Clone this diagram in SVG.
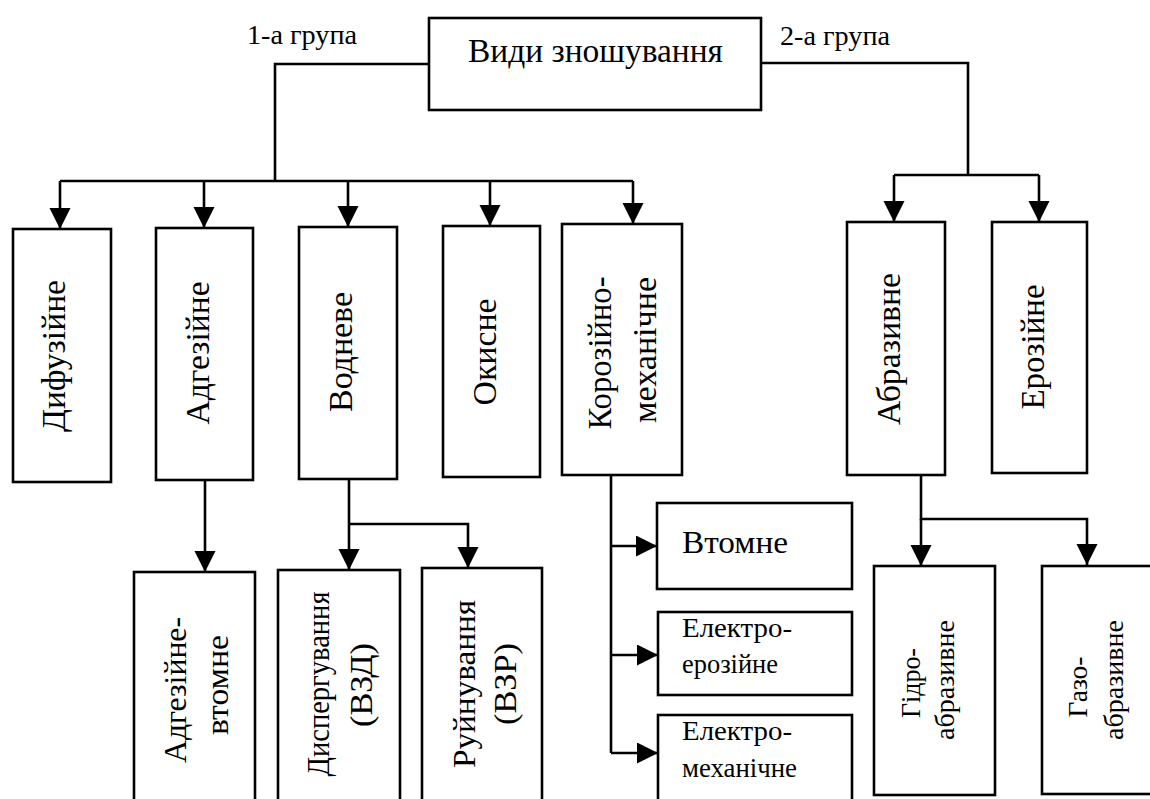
<svg xmlns="http://www.w3.org/2000/svg" width="1150" height="799" viewBox="0 0 1150 799">
<style>
.box{fill:#fff;stroke:#000;stroke-width:2.6}
.ln{fill:none;stroke:#000;stroke-width:2.6}
</style>
<defs>
<marker id="ah" markerUnits="userSpaceOnUse" markerWidth="22" markerHeight="22" refX="21" refY="10.5" orient="auto">
<path d="M0,0 L21,10.5 L0,21 Z" fill="#000"/>
</marker>
</defs>
<rect width="1150" height="799" fill="#fff"/>
<g id="connectors">
<path class="ln" d="M429,64 H275 V181"/>
<path class="ln" d="M60,181 H633"/>
<path class="ln" d="M60,181 V229" marker-end="url(#ah)"/>
<path class="ln" d="M204,181 V228" marker-end="url(#ah)"/>
<path class="ln" d="M348,181 V227" marker-end="url(#ah)"/>
<path class="ln" d="M490,181 V226" marker-end="url(#ah)"/>
<path class="ln" d="M633,181 V224" marker-end="url(#ah)"/>
<path class="ln" d="M761,63 H968 V175"/>
<path class="ln" d="M894,175 H1039"/>
<path class="ln" d="M894,175 V222" marker-end="url(#ah)"/>
<path class="ln" d="M1039,175 V222" marker-end="url(#ah)"/>
<path class="ln" d="M205,480 V572" marker-end="url(#ah)"/>
<path class="ln" d="M349,479 V570" marker-end="url(#ah)"/>
<path class="ln" d="M349,524 H468 V568" marker-end="url(#ah)"/>
<path class="ln" d="M611,475 V753"/>
<path class="ln" d="M611,546 H657" marker-end="url(#ah)"/>
<path class="ln" d="M611,655 H658" marker-end="url(#ah)"/>
<path class="ln" d="M611,753 H658" marker-end="url(#ah)"/>
<path class="ln" d="M921,475 V519 H1087 V565" marker-end="url(#ah)"/>
<path class="ln" d="M921,519 V566" marker-end="url(#ah)"/>
</g>
<g font-family="Liberation Serif, Times New Roman, serif" fill="#000">
<g id="label-g1"><text x="247" y="44" font-size="27" textLength="110" lengthAdjust="spacingAndGlyphs">1-а група</text></g>
<g id="label-g2"><text x="780" y="45" font-size="27" textLength="110" lengthAdjust="spacingAndGlyphs">2-а група</text></g>
<g id="root"><rect class="box" x="429" y="18" width="332" height="92"/><text x="468" y="62" font-size="33" textLength="255" lengthAdjust="spacingAndGlyphs">Види зношування</text></g>
<g id="dyfuz"><rect class="box" x="13" y="229" width="98" height="253"/><text font-size="34" text-anchor="middle" textLength="152" lengthAdjust="spacingAndGlyphs" transform="translate(65,356) rotate(-90)">Дифузійне</text></g>
<g id="adgez"><rect class="box" x="156" y="228" width="97" height="252"/><text font-size="34" text-anchor="middle" textLength="143" lengthAdjust="spacingAndGlyphs" transform="translate(209,353) rotate(-90)">Адгезійне</text></g>
<g id="vodn"><rect class="box" x="299" y="227" width="98" height="252"/><text font-size="34" text-anchor="middle" textLength="120" lengthAdjust="spacingAndGlyphs" transform="translate(352,352) rotate(-90)">Водневе</text></g>
<g id="okys"><rect class="box" x="443" y="226" width="97" height="251"/><text font-size="34" text-anchor="middle" textLength="107" lengthAdjust="spacingAndGlyphs" transform="translate(496,352) rotate(-90)">Окисне</text></g>
<g id="koroz"><rect class="box" x="562" y="224" width="120" height="251"/><text font-size="33" text-anchor="middle" textLength="153" lengthAdjust="spacingAndGlyphs" transform="translate(611,353) rotate(-90)">Корозійно-</text><text font-size="33" text-anchor="middle" textLength="146" lengthAdjust="spacingAndGlyphs" transform="translate(656,350) rotate(-90)">механічне</text></g>
<g id="abraz"><rect class="box" x="847" y="222" width="98" height="253"/><text font-size="33" text-anchor="middle" textLength="152" lengthAdjust="spacingAndGlyphs" transform="translate(900,349) rotate(-90)">Абразивне</text></g>
<g id="eroz"><rect class="box" x="992" y="222" width="95" height="251"/><text font-size="33" text-anchor="middle" textLength="125" lengthAdjust="spacingAndGlyphs" transform="translate(1044,347) rotate(-90)">Ерозійне</text></g>
<g id="adgez-vtom"><rect class="box" x="134" y="572" width="121" height="240"/><text font-size="32" text-anchor="middle" textLength="146" lengthAdjust="spacingAndGlyphs" transform="translate(186,690) rotate(-90)">Адгезійне-</text><text font-size="32" text-anchor="middle" textLength="100" lengthAdjust="spacingAndGlyphs" transform="translate(228,685) rotate(-90)">втомне</text></g>
<g id="dysperg"><rect class="box" x="278" y="570" width="122" height="240"/><text font-size="32" text-anchor="middle" textLength="185" lengthAdjust="spacingAndGlyphs" transform="translate(329,684) rotate(-90)">Диспергування</text><text font-size="32" text-anchor="middle" textLength="84" lengthAdjust="spacingAndGlyphs" transform="translate(372,685) rotate(-90)">(ВЗД)</text></g>
<g id="ruin"><rect class="box" x="422" y="568" width="120" height="240"/><text font-size="32" text-anchor="middle" textLength="168" lengthAdjust="spacingAndGlyphs" transform="translate(475,684) rotate(-90)">Руйнування</text><text font-size="32" text-anchor="middle" textLength="82" lengthAdjust="spacingAndGlyphs" transform="translate(516,684) rotate(-90)">(ВЗР)</text></g>
<g id="vtomne"><rect class="box" x="657" y="503" width="195" height="86"/><text x="682" y="553" font-size="31" textLength="106" lengthAdjust="spacingAndGlyphs">Втомне</text></g>
<g id="el-eroz"><rect class="box" x="658" y="612" width="194" height="83"/><text x="682" y="637" font-size="28" textLength="110" lengthAdjust="spacingAndGlyphs">Електро-</text><text x="682" y="673" font-size="28" textLength="96" lengthAdjust="spacingAndGlyphs">ерозійне</text></g>
<g id="el-mech"><rect class="box" x="658" y="715" width="194" height="95"/><text x="682" y="740" font-size="28" textLength="110" lengthAdjust="spacingAndGlyphs">Електро-</text><text x="682" y="777" font-size="28" textLength="115" lengthAdjust="spacingAndGlyphs">механічне</text></g>
<g id="gidro"><rect class="box" x="874" y="566" width="121" height="229"/><text font-size="27" text-anchor="middle" textLength="70" lengthAdjust="spacingAndGlyphs" transform="translate(920,683) rotate(-90)">Гідро-</text><text font-size="27" text-anchor="middle" textLength="120" lengthAdjust="spacingAndGlyphs" transform="translate(954,680) rotate(-90)">абразивне</text></g>
<g id="gazo"><rect class="box" x="1042" y="566" width="120" height="228"/><text font-size="27" text-anchor="middle" textLength="61" lengthAdjust="spacingAndGlyphs" transform="translate(1087,687) rotate(-90)">Газо-</text><text font-size="27" text-anchor="middle" textLength="120" lengthAdjust="spacingAndGlyphs" transform="translate(1123,680) rotate(-90)">абразивне</text></g>
</g>
</svg>
